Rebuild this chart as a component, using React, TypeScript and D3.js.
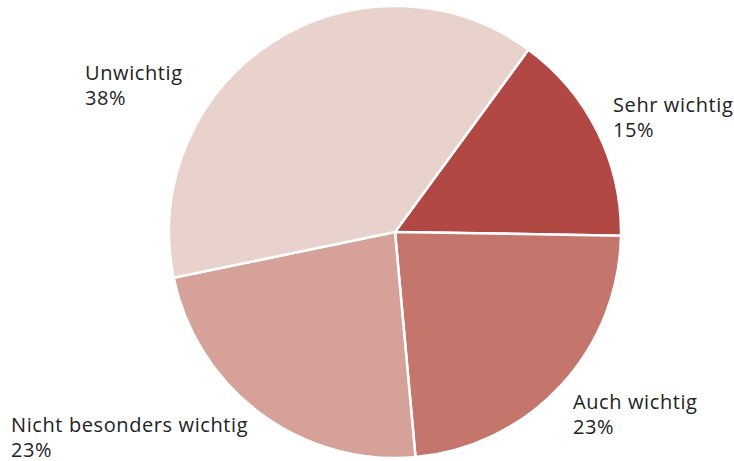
import React from "react";
import * as d3 from "d3";

const categories = ["Sehr wichtig", "Auch wichtig", "Nicht besonders wichtig", "Unwichtig"];
const values = [15.2, 23.3, 23.2, 38.3];
const percentLabels = ["15%", "23%", "23%", "38%"];
const colors = ["#b24844", "#c4756c", "#d5a199", "#e9d2cb"];
// label anchor points (left x, first baseline y)
const labelX = [613, 573, 11, 85];
const labelY = [112, 409, 432, 80];

const W = 734;
const H = 461;
const cx = 395;
const cy = 232;
const R = 226;
const startAngle = (36.2 * Math.PI) / 180;

export default function App() {
  const pie = d3
    .pie<number>()
    .sort(null)
    .value((d) => d)
    .startAngle(startAngle)
    .endAngle(startAngle + 2 * Math.PI);
  const arcs = pie(values);
  const arc = d3.arc<d3.PieArcDatum<number>>().innerRadius(0).outerRadius(R);
  return (
    <svg
      width={W}
      height={H}
      style={{ position: "absolute", left: 0, top: 0 }}
      fontFamily="'Open Sans', sans-serif"
    >
      <rect width={W} height={H} fill="#ffffff" />
      <g transform={`translate(${cx},${cy})`}>
        {arcs.map((a, i) => (
          <path
            key={i}
            d={arc(a) || ""}
            fill={colors[i]}
            stroke="#ffffff"
            strokeWidth={2.5}
            strokeLinejoin="round"
          />
        ))}
      </g>
      {categories.map((c, i) => (
        <text
          key={c}
          x={labelX[i]}
          y={labelY[i]}
          fontSize={20}
          fontWeight={400}
          letterSpacing={0.6}
          fill="#222222"
        >
          <tspan x={labelX[i]}>{c}</tspan>
          <tspan x={labelX[i]} dy={24.5}>
            {percentLabels[i]}
          </tspan>
        </text>
      ))}
    </svg>
  );
}
